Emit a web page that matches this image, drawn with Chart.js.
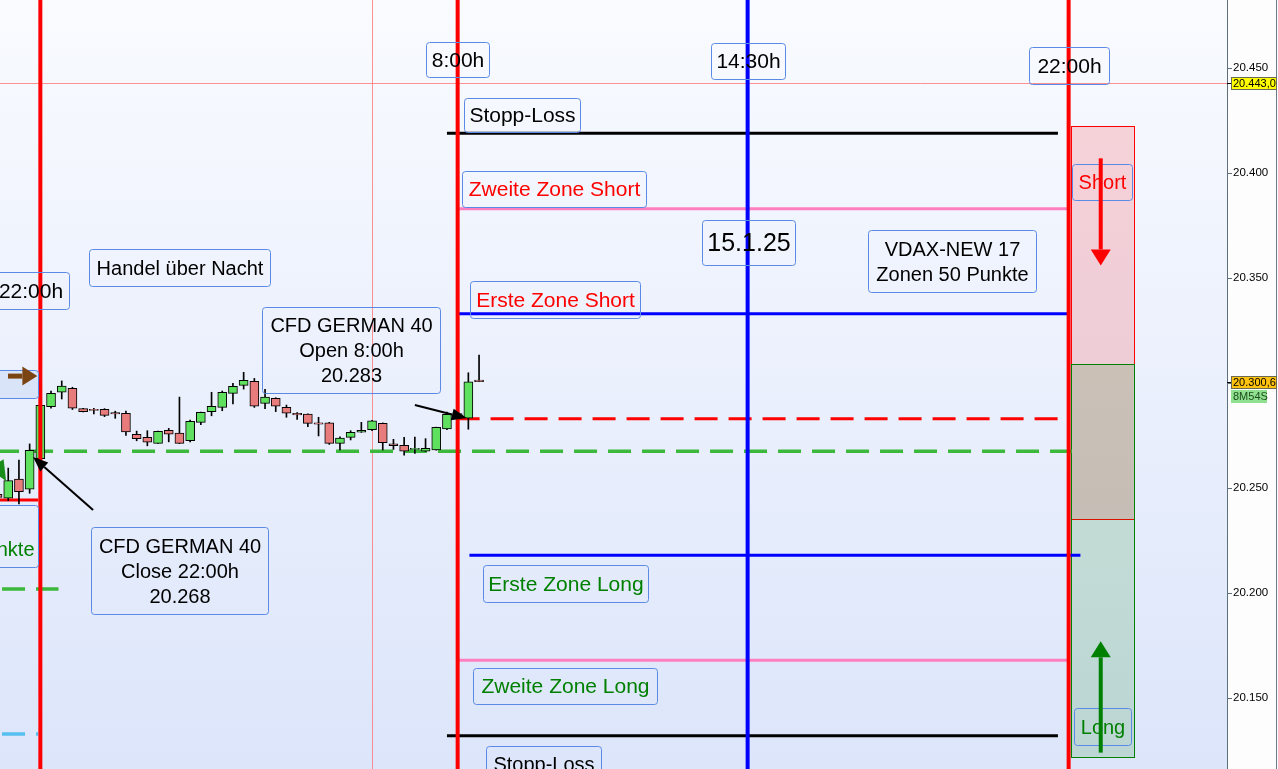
<!DOCTYPE html>
<html>
<head>
<meta charset="utf-8">
<title>CFD GERMAN 40 - 15.1.25</title>
<script src="https://cdn.jsdelivr.net/npm/chart.js"></script>
<style>
body { margin: 0; background: #fff; }
#wrap { width: 1278px; height: 769px; }
</style>
</head>
<body>
<div id="wrap"><canvas id="myChart" width="1278" height="769"></canvas></div>
<script>
// 15 min candles, index 0 = first candle after 22:00h
var candleIdx = [-4, -3, -2, -1, 0, 1, 2, 3, 4, 5, 6, 7, 8, 9, 10, 11, 12, 13, 14, 15, 16, 17, 18, 19, 20,
	21, 22, 23, 24, 25, 26, 27, 28, 29, 30, 31, 32, 33, 34, 35, 36, 37, 38, 39, 40, 41];
var opens = [20247, 20245.2, 20254.3, 20249.4, 20264, 20288.7, 20295.6, 20297.5, 20287.8, 20287.5, 20287.5, 20285.9,
	20285.6, 20275.6, 20274.1, 20271.3, 20277.5, 20276.2, 20272.5, 20281.3, 20286.4, 20288.4, 20295.1, 20298.9, 20300.8,
	20290.3, 20292.7, 20288.4, 20285.6, 20285.2, 20281, 20281, 20271.3, 20274.1, 20276.6, 20277.8, 20280.8, 20271,
	20270.3, 20268.4, 20267.6, 20268.1, 20278.1, 20284, 20283.3, 20301.4];
var highs = [20248, 20259.5, 20263.3, 20271, 20290, 20296.2, 20301, 20298, 20288, 20288, 20287.8, 20286.6,
	20286.7, 20277.1, 20277.3, 20277.1, 20278.4, 20293.3, 20282.4, 20286.2, 20295.6, 20296.2, 20299.9, 20305.1, 20302.2,
	20297, 20293, 20289.5, 20285.9, 20285.3, 20283.7, 20281.3, 20274.4, 20277.3, 20281.3, 20282.2, 20281, 20273.2,
	20274.1, 20274.3, 20273.5, 20279, 20286.2, 20286, 20304.9, 20313.3];
var lows = [20244, 20244, 20242.4, 20247.5, 20263.5, 20288, 20292.4, 20287.4, 20286.2, 20285.3, 20284, 20283.2,
	20275, 20272.5, 20270.1, 20271.2, 20272, 20271.2, 20272, 20280.2, 20284.4, 20286.8, 20290.1, 20297.1, 20288.4,
	20287.8, 20286.4, 20283.7, 20282.7, 20279.2, 20274.8, 20270.8, 20268.1, 20272.9, 20276.5, 20277.3, 20268.1, 20268.4,
	20265.6, 20266.5, 20267.4, 20268, 20277.8, 20283.5, 20278, 20300.6];
var closes = [20245.5, 20253.5, 20248.3, 20268, 20289.4, 20295.1, 20298.6, 20288, 20286.4, 20287, 20284.6, 20285.3,
	20276.7, 20273.5, 20271.8, 20277, 20275.6, 20271.3, 20281.8, 20286, 20288.9, 20295.6, 20298.4, 20301.3, 20289,
	20293.3, 20289, 20285.6, 20284.8, 20280.8, 20280.4, 20271.3, 20273.8, 20276.5, 20277.5, 20282, 20271.6, 20270.2,
	20267.5, 20268.9, 20268.9, 20278.9, 20285.1, 20285.5, 20300.6, 20300.6];

var yTicks = [20150, 20200, 20250, 20300, 20350, 20400, 20450];

// vertical time lines (22:00h, 8:00h, 14:30h, 22:00h) in candle index
var timeLines = [0, 39, 66.1, 96.1];

// zones 50 Punkte
var levelValues = [20419, 20383, 20333, 20283, 20267.5, 20218, 20168, 20132];
var levelFrom = [38, 38.9, 38.9, 38.9, -4.14, 40.1, 38.9, 38];
var levelTo = [95.1, 96.1, 96.1, 95.3, 96.4, 97.2, 96.1, 95.1];

// older lines at the left edge
var oldValues = [20244.3, 20201.9, 20132.9];
var oldFrom = [-4, -3.58, -3.58];
var oldTo = [-0.2, 1.7, -0.2];

// range boxes on the right
var shortBox = [20422.4, 20235.2];
var longBox = [20309, 20122];

var crossHair = [31, 20443];
var lastPrice = 20300.6;

var RED = '#ff0000', GREEN = '#008000', BLUE = '#0000ff';
var FONT = "'Liberation Sans', Arial, sans-serif";

var levelStyle = [
	{color: '#000000', width: 3},
	{color: '#ff80c0', width: 3},
	{color: BLUE, width: 3},
	{color: RED, width: 3, dash: [23, 11]},
	{color: '#3cb83c', width: 3.5, dash: [23, 11]},
	{color: BLUE, width: 3},
	{color: '#ff80c0', width: 3},
	{color: '#000000', width: 3}
];
var oldStyle = [
	{color: RED, width: 3},
	{color: '#3cb83c', width: 3.5, dash: [23, 11]},
	{color: '#55c0f0', width: 3.5, dash: [23, 11]}
];
var timeColors = [RED, RED, BLUE, RED];

var notes = [
	{x1: 36.05, x2: 41.93, y1: 20462.4, y2: 20445.7, text: ['8:00h'], size: 21},
	{x1: 62.68, x2: 69.6, y1: 20461.9, y2: 20444.8, text: ['14:30h'], size: 21},
	{x1: 92.4, x2: 99.9, y1: 20460, y2: 20442.4, text: ['22:00h'], size: 21},
	{x1: 39.6, x2: 50.44, y1: 20435.7, y2: 20419.3, text: ['Stopp-Loss'], size: 21},
	{x1: 39.41, x2: 56.6, y1: 20401, y2: 20383.8, text: ['Zweite Zone Short'], size: 21, color: RED},
	{x1: 61.84, x2: 70.53, y1: 20377.6, y2: 20356.2, text: ['15.1.25'], size: 25},
	{x1: 77.35, x2: 93.05, y1: 20372.9, y2: 20343.3, text: ['VDAX-NEW 17', 'Zonen 50 Punkte'], size: 20},
	{x1: 4.55, x2: 21.47, y1: 20363.8, y2: 20346.2, text: ['Handel über Nacht'], size: 20},
	{x1: -4.51, x2: 2.68, y1: 20352.9, y2: 20335.2, text: ['22:00h'], size: 21},
	{x1: 40.16, x2: 56.05, y1: 20348.6, y2: 20331, text: ['Erste Zone Short'], size: 21, color: RED},
	{x1: 20.72, x2: 37.35, y1: 20336.2, y2: 20295.2, text: ['CFD GERMAN 40', 'Open 8:00h', '20.283'], size: 20},
	{x1: -4.7, x2: -0.21, y1: 20306.2, y2: 20292.9, text: [], fill: '#dae4f8'},
	{x1: -9.4, x2: -0.21, y1: 20241.9, y2: 20212.4, text: ['', '50 Punkte'], size: 20, color: GREEN},
	{x1: 4.75, x2: 21.28, y1: 20231.4, y2: 20190, text: ['CFD GERMAN 40', 'Close 22:00h', '20.268'], size: 20},
	{x1: 41.37, x2: 56.79, y1: 20213.3, y2: 20195.7, text: ['Erste Zone Long'], size: 21, color: GREEN},
	{x1: 40.44, x2: 57.64, y1: 20164.3, y2: 20147.1, text: ['Zweite Zone Long'], size: 21, color: GREEN},
	{x1: 41.66, x2: 52.4, y1: 20127.1, y2: 20110, text: ['Stopp-Loss'], size: 20},
	{x1: 96.42, x2: 102.0, y1: 20404.3, y2: 20387.1, text: ['Short'], size: 20, color: RED},
	{x1: 96.6, x2: 101.9, y1: 20145.2, y2: 20127.6, text: ['Long'], size: 20, color: GREEN}
];

var arrows = [
	{from: [99.1, 20407], to: [99.1, 20356], w: 4, hl: 16, hw: 20, color: RED},
	{from: [99.1, 20124], to: [99.1, 20177], w: 4, hl: 16, hw: 20, color: GREEN},
	{from: [35.0, 20289.5], to: [39.85, 20283.3], w: 2, hl: 15, hw: 12, color: '#000000'},
	{from: [4.93, 20239.5], to: [-0.68, 20264.8], w: 2, hl: 15, hw: 12, color: '#000000'},
	{from: [-3.02, 20303.3], to: [-0.28, 20303.3], w: 5, hl: 15, hw: 19, color: '#7b4513'},
	{from: [-6.6, 20282.4], to: [-3.2, 20253.3], w: 4, hl: 20, hw: 18, color: '#1a8c1a'}
];

function deNum(v, dec) {
	var s = v.toFixed(dec).split('.');
	var i = s[0].replace(/\B(?=(\d{3})+(?!\d))/g, '.');
	return s.length > 1 ? i + ',' + s[1] : i;
}

function lineSet(pts, st, order) {
	return {
		type: 'line',
		data: pts,
		borderColor: st.color,
		borderWidth: st.width,
		borderDash: st.dash || [],
		pointRadius: 0,
		tension: 0,
		order: order
	};
}

var datasets = [];

// candle bodies on top
datasets.push({
	type: 'bar',
	data: candleIdx.map(function(x, i) { return {x: x, y: [opens[i], closes[i]]}; }),
	backgroundColor: candleIdx.map(function(x, i) { return closes[i] >= opens[i] ? '#5fe05f' : '#e87b7b'; }),
	borderColor: '#000000',
	borderWidth: 1,
	borderSkipped: false,
	barThickness: 9,
	grouped: false,
	order: 1
});
// wicks
datasets.push({
	type: 'bar',
	data: candleIdx.map(function(x, i) { return {x: x, y: [lows[i], highs[i]]}; }),
	backgroundColor: '#000000',
	barThickness: 1,
	grouped: false,
	order: 2
});

levelValues.forEach(function(v, i) {
	datasets.push(lineSet([{x: levelFrom[i], y: v}, {x: levelTo[i], y: v}], levelStyle[i], 3));
});
oldValues.forEach(function(v, i) {
	datasets.push(lineSet([{x: oldFrom[i], y: v}, {x: oldTo[i], y: v}], oldStyle[i], 3));
});
timeLines.forEach(function(t, i) {
	datasets.push(lineSet([{x: t, y: 20100}, {x: t, y: 20500}], {color: timeColors[i], width: 4}, 0));
});

function P(chart, x, y) {
	return [chart.scales.x.getPixelForValue(x), chart.scales.y.getPixelForValue(y)];
}

function drawArrow(ctx, a, b, w, hl, hw, color) {
	var ang = Math.atan2(b[1] - a[1], b[0] - a[0]);
	var bx = b[0] - hl * Math.cos(ang), by = b[1] - hl * Math.sin(ang);
	ctx.strokeStyle = color;
	ctx.lineWidth = w;
	ctx.beginPath();
	ctx.moveTo(a[0], a[1]);
	ctx.lineTo(bx, by);
	ctx.stroke();
	ctx.fillStyle = color;
	ctx.beginPath();
	ctx.moveTo(b[0], b[1]);
	ctx.lineTo(bx + hw / 2 * Math.sin(ang), by - hw / 2 * Math.cos(ang));
	ctx.lineTo(bx - hw / 2 * Math.sin(ang), by + hw / 2 * Math.cos(ang));
	ctx.closePath();
	ctx.fill();
}

var bgPlugin = {
	id: 'bg',
	beforeDraw: function(chart) {
		var ctx = chart.ctx, ca = chart.chartArea;
		ctx.save();
		ctx.fillStyle = '#fdfdfe';
		ctx.fillRect(0, 0, chart.width, chart.height);
		var g = ctx.createLinearGradient(0, ca.top, 0, ca.bottom);
		g.addColorStop(0, '#f9fbff');
		g.addColorStop(1, '#dce5fa');
		ctx.fillStyle = g;
		ctx.fillRect(ca.left, ca.top, ca.right - ca.left, ca.bottom - ca.top);
		ctx.restore();
	},
	beforeDatasetsDraw: function(chart) {
		var ctx = chart.ctx, ca = chart.chartArea;
		ctx.save();
		// range boxes
		[[shortBox, 'rgba(255,0,0,0.15)', RED], [longBox, 'rgba(0,128,0,0.15)', GREEN]].forEach(function(b) {
			var p1 = P(chart, 96.3, b[0][0]), p2 = P(chart, 102.2, b[0][1]);
			ctx.fillStyle = b[1];
			ctx.fillRect(p1[0], p1[1], p2[0] - p1[0], p2[1] - p1[1]);
			ctx.strokeStyle = b[2];
			ctx.lineWidth = 1;
			ctx.strokeRect(Math.round(p1[0]) + 0.5, Math.round(p1[1]) + 0.5, Math.round(p2[0] - p1[0]), Math.round(p2[1] - p1[1]));
		});
		// crosshair
		var c = P(chart, crossHair[0], crossHair[1]);
		ctx.strokeStyle = 'rgba(255,110,110,0.75)';
		ctx.lineWidth = 1;
		ctx.beginPath();
		ctx.moveTo(Math.round(c[0]) + 0.5, ca.top);
		ctx.lineTo(Math.round(c[0]) + 0.5, ca.bottom);
		ctx.moveTo(ca.left, Math.round(c[1]) + 0.5);
		ctx.lineTo(ca.right, Math.round(c[1]) + 0.5);
		ctx.stroke();
		ctx.restore();
	},
	afterDatasetsDraw: function(chart) {
		var ctx = chart.ctx;
		ctx.save();
		notes.forEach(function(n) {
			var p1 = P(chart, n.x1, n.y1), p2 = P(chart, n.x2, n.y2);
			var x = Math.round(p1[0]) + 0.5, y = Math.round(p1[1]) + 0.5;
			var w = Math.round(p2[0] - p1[0]), h = Math.round(p2[1] - p1[1]);
			ctx.beginPath();
			ctx.roundRect(x, y, w, h, 3);
			if (n.fill) {
				ctx.fillStyle = n.fill;
				ctx.fill();
			}
			ctx.strokeStyle = '#5a8ae6';
			ctx.lineWidth = 1;
			ctx.stroke();
			ctx.fillStyle = n.color || '#000000';
			ctx.font = (n.size || 20) + 'px ' + FONT;
			ctx.textAlign = 'center';
			ctx.textBaseline = 'middle';
			var cx = x + w / 2, cy = y + h / 2 + 1;
			n.text.forEach(function(t, i) {
				ctx.fillText(t, cx, cy + (i - (n.text.length - 1) / 2) * 25);
			});
		});
		arrows.forEach(function(a) {
			drawArrow(ctx, P(chart, a.from[0], a.from[1]), P(chart, a.to[0], a.to[1]), a.w, a.hl, a.hw, a.color);
		});
		ctx.restore();
	},
	afterDraw: function(chart) {
		var ctx = chart.ctx, ys = chart.scales.y;
		ctx.save();
		ctx.strokeStyle = '#6b7b88';
		ctx.lineWidth = 1;
		ctx.beginPath();
		ctx.moveTo(chart.width - 1.5, 0);
		ctx.lineTo(chart.width - 1.5, chart.height);
		ctx.stroke();
		ctx.font = '11px ' + FONT;
		ctx.textBaseline = 'middle';
		ctx.textAlign = 'left';
		[[crossHair[1], '#ffff00'], [lastPrice, '#ffc20e']].forEach(function(l) {
			var y = Math.round(ys.getPixelForValue(l[0]));
			ctx.strokeStyle = '#000';
			ctx.beginPath();
			ctx.moveTo(ys.left, y + 0.5);
			ctx.lineTo(ys.left + 4, y + 0.5);
			ctx.stroke();
			ctx.fillStyle = l[1];
			ctx.fillRect(ys.left + 4, y - 6, 45, 13);
			ctx.strokeStyle = '#6a6a50';
			ctx.strokeRect(ys.left + 4.5, y - 5.5, 45, 12);
			ctx.fillStyle = '#000';
			ctx.fillText(deNum(l[0], 1), ys.left + 6, y + 1);
		});
		var yl = Math.round(ys.getPixelForValue(lastPrice));
		ctx.fillStyle = '#8fe08f';
		ctx.fillRect(ys.left + 4, yl + 8, 36, 13);
		ctx.fillStyle = '#1d4d1d';
		ctx.fillText('8M54S', ys.left + 6, yl + 15);
		ctx.restore();
	}
};

var ctx = document.getElementById('myChart');
var myChart = new Chart(ctx, {
	type: 'bar',
	data: {datasets: datasets},
	options: {
		responsive: false,
		animation: false,
		layout: {padding: 0},
		plugins: {
			legend: {display: false},
			tooltip: {enabled: false}
		},
		scales: {
			x: {
				type: 'linear',
				min: -3.77,
				max: 110.9,
				offset: false,
				display: false
			},
			y: {
				position: 'right',
				min: 20116.2,
				max: 20482.4,
				afterBuildTicks: function(scale) {
					scale.ticks = yTicks.map(function(v) { return {value: v}; });
				},
				afterFit: function(scale) {
					scale.width = 51;
					scale.paddingTop = 0;
					scale.paddingBottom = 0;
				},
				ticks: {
					padding: 1,
					color: '#000000',
					font: {size: 11.5, family: FONT},
					callback: function(v) { return deNum(v, 0); }
				},
				grid: {
					drawOnChartArea: false,
					tickLength: 5,
					color: '#5f6f7c'
				},
				border: {color: '#5f6f7c'}
			}
		}
	},
	plugins: [bgPlugin]
});
</script>
</body>
</html>
